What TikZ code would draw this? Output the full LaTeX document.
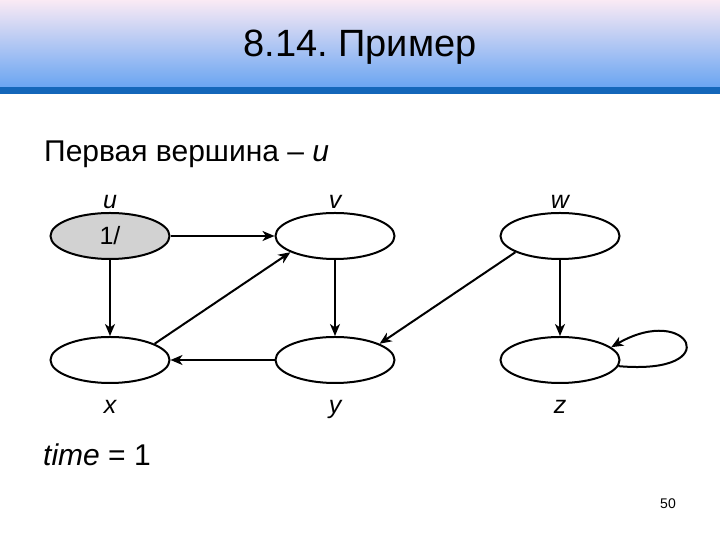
\documentclass[tikz,border=0pt]{standalone}
\usepackage{fontspec}
\setmainfont{Liberation Sans}
\usetikzlibrary{shapes.geometric,arrows.meta}
\definecolor{hdrtop}{HTML}{FAEAF4}
\definecolor{hdrbot}{HTML}{6AA5F2}
\definecolor{hdrbar}{HTML}{1467BA}
\definecolor{visited}{HTML}{D2D2D2}
\frenchspacing

\begin{document}
\begin{tikzpicture}[x=1pt,y=1pt,
  vertex/.style={ellipse, draw, line width=2pt, minimum width=119pt, minimum height=46pt, inner sep=0pt, font=\fontsize{25}{25}\selectfont},
  vlabel/.style={font=\fontsize{25}{25}\selectfont\itshape},
  edge/.style={line width=2pt, -{Stealth[length=12pt,width=10pt,inset=3.5pt]}}]
  \useasboundingbox (0,0) rectangle (720,540);
  % header
  \shade[top color=hdrtop, bottom color=hdrbot] (0,453) rectangle (720,540);
  \fill[hdrbar] (0,446) rectangle (720,453);
  \node (title) at (360,493) {\fontsize{38}{38}\selectfont 8.14. Пример};
  \node[anchor=base west, inner sep=0pt] (intro) at (44,378) {\fontsize{30}{30}\selectfont Первая вершина – \textit{u}};

  % vertices
  \node[vertex, fill=visited, label={[vlabel, label distance=0pt]above:u}] (u) at (110,304) {1/};
  \node[vertex, label={[vlabel, label distance=0pt]above:v}] (v) at (335,304) {};
  \node[vertex, label={[vlabel, label distance=0pt]above:w}] (w) at (560,304) {};
  \node[vertex, label={[vlabel, label distance=13pt]below:x}] (x) at (110,180) {};
  \node[vertex, label={[vlabel, label distance=13pt]below:y}] (y) at (335,180) {};
  \node[vertex, label={[vlabel, label distance=13pt]below:z}] (z) at (560,180) {};

  % edges
  \draw[edge] (u) -- (v);
  \draw[edge] (u) -- (x);
  \draw[edge] (x.20) -- (v.200);
  \draw[edge] (v) -- (y);
  \draw[edge] (y) -- (x);
  \draw[edge] (w.200) -- (y.20);
  \draw[edge] (w) -- (z);
  \draw[edge] (z.-6) .. controls +(-5:110) and +(30:90) .. (z.14);

  \node[anchor=base west, inner sep=0pt] (time) at (43,74) {\fontsize{30}{30}\selectfont \textit{time} = 1};
  \node (page) at (668,36) {\fontsize{14}{14}\selectfont 50};
\end{tikzpicture}
\end{document}
